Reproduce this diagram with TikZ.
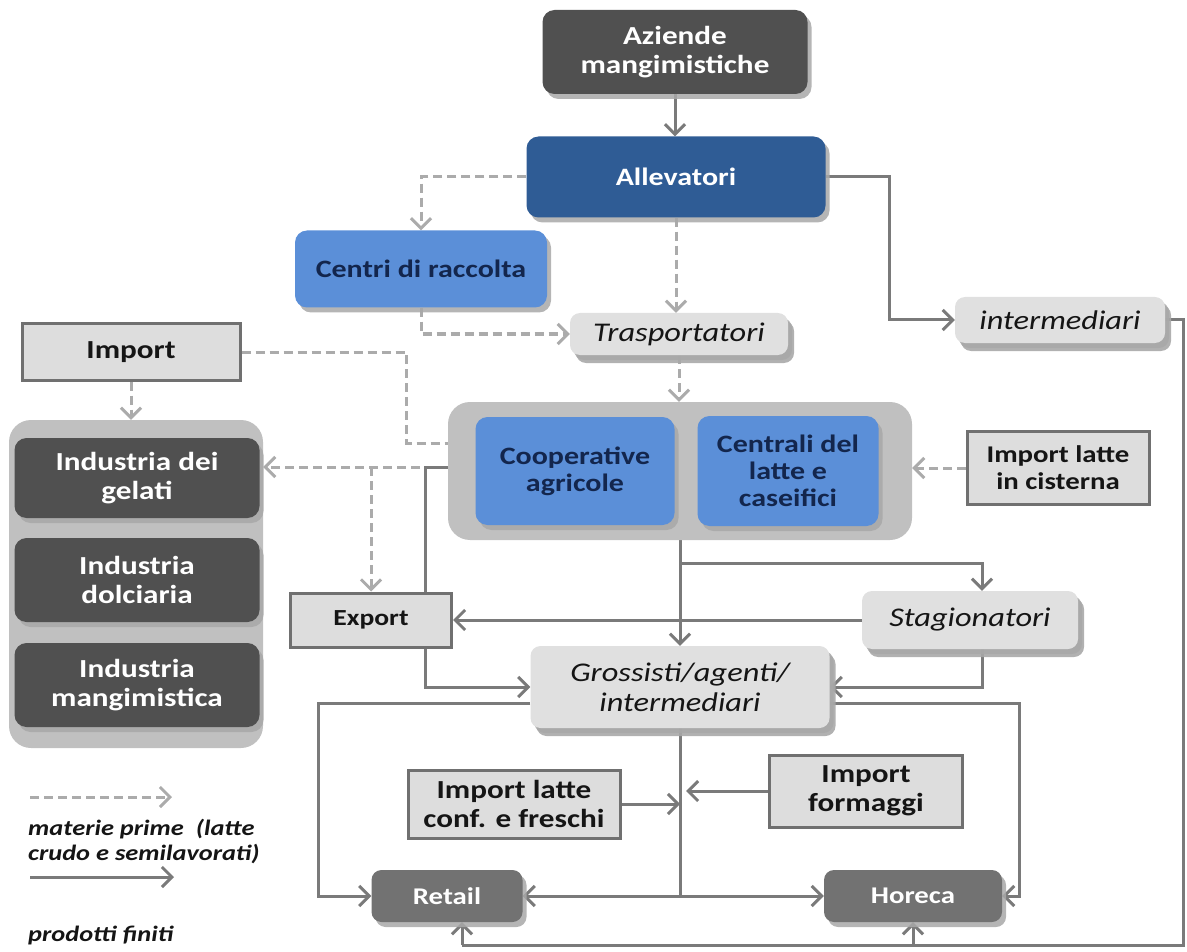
\documentclass[tikz,border=0pt]{standalone}
\usepackage{fontspec}
\setmainfont{Carlito}[FakeStretch=1.2]
\usetikzlibrary{arrows.meta,shadows,calc}
\definecolor{cDark}{HTML}{505050}
\definecolor{cNavy}{HTML}{2F5C95}
\definecolor{cBlue}{HTML}{5B8FD8}
\definecolor{cBlueTxt}{HTML}{13264D}
\definecolor{cCont}{HTML}{C0C0C0}
\definecolor{cLight}{HTML}{E0E0E0}
\definecolor{cImp}{HTML}{DDDDDD}
\definecolor{cImpBorder}{HTML}{707070}
\definecolor{cRet}{HTML}{727272}
\definecolor{cArr}{HTML}{7A7A7A}
\definecolor{cDash}{HTML}{ABABAB}
\definecolor{cShadow}{HTML}{A8A8A8}
\definecolor{cTxt}{HTML}{151515}
\pgfdeclarelayer{bg}
\pgfsetlayers{bg,main}
\begin{document}
\begin{tikzpicture}[x=1pt,y=-1pt,
  shad/.style={drop shadow={shadow xshift=4pt,shadow yshift=-5pt,fill=cShadow,opacity=0.85}},
  boxbase/.style={rounded corners=12pt,align=center,inner sep=0pt,shad},
  boxdark/.style={boxbase,fill=cDark,text=white,font=\fontsize{26}{29}\selectfont\bfseries},
  boxnavy/.style={boxbase,fill=cNavy,text=white,font=\fontsize{25}{28}\selectfont\bfseries},
  boxblue/.style={boxbase,fill=cBlue,text=cBlueTxt,font=\fontsize{25}{27}\selectfont\bfseries},
  boxlight/.style={boxbase,rounded corners=10pt,fill=cLight,text=cTxt,font=\fontsize{27}{30}\selectfont\itshape,
     drop shadow={shadow xshift=6pt,shadow yshift=-8pt,fill=cShadow,opacity=0.9}},
  boximport/.style={draw=cImpBorder,line width=3pt,fill=cImp,text=cTxt,align=center,inner sep=0pt,
     font=\fontsize{26}{29}\selectfont\bfseries},
  boxretail/.style={boxbase,rounded corners=10pt,fill=cRet,text=white,font=\fontsize{24}{27}\selectfont\bfseries},
  contbox/.style={rounded corners=22pt,fill=cCont,inner sep=0pt},
  solidline/.style={draw=cArr,line width=3pt},
  solidarr/.style={solidline,-{Straight Barb[length=10pt,width=20pt]}},
  dashline/.style={draw=cDash,line width=3pt,dash pattern=on 9pt off 5pt},
  dasharr/.style={dashline,-{Straight Barb[length=10pt,width=20pt]}},
  legtext/.style={align=left,inner sep=0pt,text=cTxt,font=\fontsize{22}{25}\selectfont\bfseries\itshape},
]
\useasboundingbox (0,0) rectangle (1187,952);

% top
\node[boxdark,minimum width=265pt,minimum height=84pt] (az) at (675,52) {Aziende\\mangimistiche};
\node[boxnavy,minimum width=299pt,minimum height=81pt] (all) at (676,177) {Allevatori};
\node[boxblue,minimum width=252pt,minimum height=77pt] (cen) at (421,269) {Centri di raccolta};
\node[boxlight,minimum width=218pt,minimum height=42pt] (tra) at (679,334) {Trasportatori};
\node[boxlight,minimum width=210pt,minimum height=46pt] (int) at (1060,320) {intermediari};
\node[boximport,minimum width=218pt,minimum height=56pt] (imp) at (131,352) {Import};

% central container
\node[contbox,minimum width=464pt,minimum height=138pt] (co) at (680,471) {};
\node[boxblue,minimum width=199pt,minimum height=108pt] (coop) at (575,471) {Cooperative\\agricole};
\node[boxblue,minimum width=181pt,minimum height=110pt] (cent) at (788,471) {Centrali del\\latte e\\caseifici};
\node[boximport,minimum width=182pt,minimum height=73pt,font=\fontsize{24}{27}\selectfont\bfseries] (iml) at (1058,468) {Import latte\\in cisterna};

% industria group
\node[contbox,minimum width=254pt,minimum height=328pt] (ind) at (136,584) {};
\node[boxdark,minimum width=245pt,minimum height=80pt] (ig) at (137,478) {Industria dei\\gelati};
\node[boxdark,minimum width=245pt,minimum height=84pt] (idl) at (137,580) {Industria\\dolciaria};
\node[boxdark,minimum width=245pt,minimum height=84pt] (img) at (137,685) {Industria\\mangimistica};

% middle
\node[boximport,minimum width=161pt,minimum height=54pt,font=\fontsize{23}{26}\selectfont\bfseries] (exp) at (371,620) {Export};
\node[boxlight,minimum width=216pt,minimum height=58pt] (sta) at (970,620) {Stagionatori};
\node[boxlight,minimum width=299pt,minimum height=82pt] (gro) at (680,687) {Grossisti/agenti/\\intermediari};

% bottom
\node[boximport,minimum width=212pt,minimum height=68pt] (ilc) at (514,804) {Import latte\\conf. e freschi};
\node[boximport,minimum width=193pt,minimum height=72pt] (ifo) at (866,791) {Import\\formaggi};
\node[boxretail,minimum width=151pt,minimum height=52pt] (ret) at (447,896) {Retail};
\node[boxretail,minimum width=178pt,minimum height=52pt] (hor) at (913,896) {Horeca};

% legend
\coordinate (lda) at (30,797);
\coordinate (ldb) at (172,797);
\coordinate (lsa) at (30,877);
\coordinate (lsb) at (174,877);
\node[legtext,anchor=north west] (lt1) at (28,819) {materie prime \ (latte\\crudo e semilavorati)};
\node[legtext,anchor=north west] (lt2) at (28,926) {prodotti finiti};

\coordinate (base) at (0,945);
\coordinate (dsplit) at (371,467);
\path (ret.south) ++(15,0) coordinate (rs);

\begin{pgfonlayer}{bg}
% dashed flows
\draw[dasharr] (all.west) -| (cen.north);
\draw[dasharr] (all.south) -- (all.south |- tra.north);
\draw[dasharr] (cen.south) |- (tra.west);
\draw[dasharr] (tra.south) -- (tra.south |- co.north);
\draw[dashline] (imp.east) -- ++(165,0) |- ($(co.west)+(0,-28)$);
\draw[dasharr] (imp.south) -- (imp.south |- ind.north);
\draw[dasharr] ($(co.west)+(0,-4)$) -- (ind.east |- dsplit);
\draw[dasharr] (dsplit) -- (exp.north);
\draw[dasharr] (iml.west) -- (iml.west -| co.east);
\draw[dasharr] (lda) -- (ldb);
% solid flows
\draw[solidarr] (az.south) -- (az.south |- all.north);
\draw[solidarr] (all.east) -- ++(64,0) |- (int.west);
\draw[solidarr] ($(co.west)+(0,-4)$) -| ([xshift=54pt]exp.south) |- (gro.west);
\draw[solidarr] (co.south) -- (co.south |- gro.north);
\draw[solidarr] ($(co.south)+(0,23)$) -| ([xshift=12pt]sta.north);
\draw[solidarr] (sta.west) -- (sta.west -| exp.east);
\draw[solidarr] ([xshift=12pt]sta.south) |- (gro.east);
\draw[solidarr] ($(gro.west)+(0,16)$) -- ++(-212,0) |- (ret.west);
\draw[solidarr] ($(gro.east)+(0,16)$) -- ++(190,0) |- (hor.east);
\draw[solidline] (gro.south) -- (gro.south |- ret.east) coordinate (gb);
\draw[solidarr] (gb) -- (ret.east);
\draw[solidarr] (gb) -- (hor.west);
\draw[solidarr] (ilc.east) -- (ilc.east -| gb);
\draw[solidarr] (ifo.west) -- ($(ifo.west -| gb)+(6,0)$);
\draw[solidline] (int.east) -- ++(18,0) |- (rs |- base);
\draw[solidarr] (rs |- base) -- (rs);
\draw[solidarr] (hor.south |- base) -- (hor.south);
\draw[solidarr] (lsa) -- (lsb);
\end{pgfonlayer}
\end{tikzpicture}
\end{document}
